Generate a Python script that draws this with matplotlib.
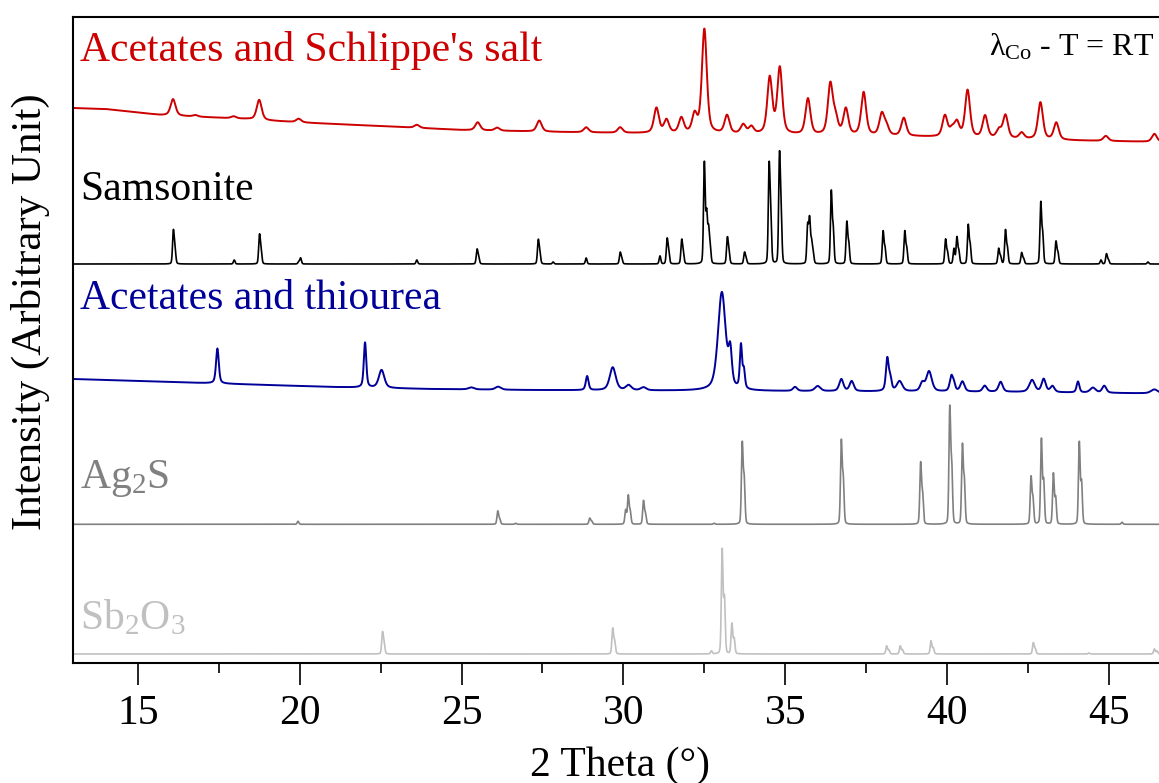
import numpy as np
import matplotlib
matplotlib.use("Agg")
import matplotlib.pyplot as plt
from matplotlib.ticker import MultipleLocator

plt.rcParams['font.family'] = ['Liberation Serif', 'DejaVu Serif']
plt.rcParams['mathtext.fontset'] = 'custom'
plt.rcParams['mathtext.rm'] = 'Liberation Serif'
plt.rcParams['mathtext.it'] = 'Liberation Serif:italic'

# ---------------- data ----------------
x_range = [13.0, 46.6]
x_ticks = [15, 20, 25, 30, 35, 40, 45]

# Acetates and Schlippe's salt (measured, red)
red_bg_x = [13, 14, 15.7, 17, 18.4, 19.1, 20.4, 22.9, 25, 28, 30, 33, 36, 39, 42, 44, 46.6]
red_bg_y = [555, 554, 548, 546, 544, 542.3, 540, 536.3, 533, 531, 530, 529, 527.5, 526.5, 524, 522.5, 521]
red_pos = [16.09, 16.78, 17.96, 18.75, 19.97, 23.62, 25.50, 26.10, 27.40, 28.85, 29.90, 31.02, 31.33,
           31.79, 32.20, 32.50, 33.20, 33.70, 33.95, 34.52, 34.83, 35.70, 36.39, 36.55, 36.87, 37.42,
           37.98, 38.12, 38.66, 39.93, 40.15, 40.30, 40.63, 41.17, 41.60, 41.80, 42.30, 42.88, 43.37,
           44.90, 46.40]
red_h = [16.5, 1.5, 2, 20, 3.5, 3, 8, 3, 11, 5, 5.5, 25, 13, 15, 18, 104, 18, 9, 7, 56, 66, 36, 50, 16,
         26, 43, 21, 9, 18, 21, 7, 14, 47, 22, 8, 23, 6, 37, 17, 5, 8]
red_fwhm = 0.18

# Samsonite (reference pattern, black)
sam_base = 399
sam_pos = [16.10, 16.15, 17.98, 18.76, 18.81, 19.97, 20.03, 23.62, 25.48, 25.53, 27.37, 27.42, 27.83,
           28.85, 29.90, 29.95, 31.13, 31.35, 31.40, 31.80, 31.85, 32.50, 32.57, 32.63, 32.68, 33.21,
           33.26, 33.74, 33.79, 34.50, 34.55, 34.82, 34.87, 35.69, 35.75, 35.81, 35.86, 36.42, 36.48,
           36.90, 36.96, 38.02, 38.08, 38.69, 38.75, 39.95, 40.01, 40.21, 40.30, 40.36, 40.65, 40.71,
           41.59, 41.65, 41.80, 41.86, 42.30, 42.36, 42.89, 42.95, 43.36, 43.42, 44.75, 44.92, 44.98,
           46.20]
sam_h = [32, 14, 4, 28, 12, 2, 6, 4, 14, 6, 23, 10, 2, 6, 11, 5, 8, 24, 11, 23, 10, 100, 48, 32, 15,
         25, 12, 11, 5, 94, 45, 104, 48, 37, 43, 20, 10, 71, 33, 41, 20, 32, 15, 32, 15, 24, 11, 15,
         26, 12, 38, 18, 15, 7, 33, 15, 11, 5, 60, 28, 22, 11, 4, 10, 4, 2]
sam_fwhm = 0.06

# Acetates and thiourea (measured, blue)
thio_bg_x = [13, 15, 17, 19, 21, 24, 27, 30, 34, 38, 42, 46.6]
thio_bg_y = [284, 282, 280, 278, 276, 274, 273, 272.5, 272, 271.5, 271, 269.5]
thio_pos = [17.46, 22.02, 22.53, 25.30, 26.13, 28.88, 29.67, 30.16, 30.62, 33.04, 33.30, 33.63, 33.72,
            35.30, 36.00, 36.73, 37.05, 38.15, 38.24, 38.53, 39.23, 39.44, 40.13, 40.21, 40.47, 41.16,
            41.65, 42.62, 42.98, 43.25, 44.04, 44.50, 44.85, 46.40]
thio_h = [35, 45, 18, 2, 3, 14, 23, 5, 3, 98, 33, 43, 18, 4, 5, 12, 10, 32, 12, 10, 8, 20, 15, 6, 10,
          6, 10, 12, 13, 6, 11, 5, 7, 4]
thio_w = [0.10, 0.09, 0.20, 0.2, 0.2, 0.10, 0.22, 0.2, 0.2, 0.28, 0.12, 0.08, 0.08, 0.15, 0.2, 0.15,
          0.15, 0.10, 0.10, 0.2, 0.15, 0.2, 0.12, 0.1, 0.15, 0.15, 0.15, 0.2, 0.15, 0.15, 0.10, 0.2,
          0.15, 0.25]

# Ag2S (reference pattern, grey)
ag_base = 138.7
ag_pos = [19.95, 26.12, 26.18, 26.67, 28.96, 29.02, 30.07, 30.15, 30.21, 30.62, 30.68, 32.80, 33.67,
          33.73, 36.73, 36.79, 39.18, 39.24, 40.08, 40.14, 40.47, 40.53, 42.59, 42.65, 42.91, 42.98,
          43.28, 43.35, 44.08, 44.15, 45.40]
ag_h = [3, 13, 5, 1, 6, 3, 14, 28, 12, 23, 10, 1, 79, 43, 81, 43, 60, 29, 114, 56, 77, 41, 46, 24, 84,
        42, 50, 26, 81, 41, 2]
ag_fwhm = 0.06

# Sb2O3 (reference pattern, light grey)
sb_base = 9
sb_pos = [22.56, 22.61, 29.67, 29.73, 32.72, 33.05, 33.12, 33.35, 33.42, 38.13, 38.20, 38.55, 38.62,
          39.50, 39.57, 42.66, 42.72, 44.38, 46.40, 46.48]
sb_h = [21, 9, 25, 12, 3, 103, 54, 30, 15, 8, 4, 8, 4, 13, 6, 11, 5, 1, 5, 3]
sb_fwhm = 0.06

labels = ["Acetates and Schlippe's salt", "Samsonite", "Acetates and thiourea",
          r"Ag$_\mathregular{2}$S", r"Sb$_\mathregular{2}$O$_\mathregular{3}$"]
colors = ['#cc0000', '#000000', '#000099', '#808080', '#c0c0c0']


# ---------------- drawing ----------------
def pattern(x, pos, h, w, eta):
    w = np.broadcast_to(np.asarray(w, float), np.shape(pos))
    y = np.zeros_like(x)
    for p, hh, ww in zip(pos, h, w):
        d = (x - p) / (ww / 2.0)
        y += hh * (eta / (1 + d * d) + (1 - eta) * np.exp(-np.log(2) * d * d))
    return y


x = np.arange(x_range[0], x_range[1] + 0.002, 0.004)

traces = [
    np.interp(x, red_bg_x, red_bg_y) + pattern(x, red_pos, red_h, red_fwhm, 0.5),
    sam_base + pattern(x, sam_pos, sam_h, sam_fwhm, 0.2),
    np.interp(x, thio_bg_x, thio_bg_y) + pattern(x, thio_pos, thio_h, thio_w, 0.5),
    ag_base + pattern(x, ag_pos, ag_h, ag_fwhm, 0.2),
    sb_base + pattern(x, sb_pos, sb_h, sb_fwhm, 0.2),
]

W, H = 1159, 783
fig = plt.figure(figsize=(W / 100, H / 100), dpi=100)
ax = fig.add_axes([73 / W, (H - 663) / H, 1 - 73 / W + 0.01, (663 - 17) / H])

lws = [1.4, 1.2, 1.4, 1.2, 1.2]
for tr, c, lw in zip(traces, colors, lws):
    ax.plot(x, tr, color=c, lw=lw)

ax.set_xlim(x_range[0], x_range[1] + 0.3)
ax.set_ylim(0, 646)
ax.set_yticks([])
ax.xaxis.set_minor_locator(MultipleLocator(2.5))
ax.set_xticks(x_ticks)
ax.tick_params(axis='x', which='major', direction='out', length=16, width=1.2, labelsize=30, pad=7)
ax.tick_params(axis='x', which='minor', direction='out', length=7, width=1.2)
for s in ['left', 'top', 'bottom']:
    ax.spines[s].set_linewidth(1.5)
ax.spines['right'].set_visible(False)

fig.text(620 / W, 1 - 776 / H, "2 Theta (°)", fontsize=30, ha='center', va='baseline')
fig.text(30 / W, 1 - 312 / H, "Intensity (Arbitrary Unit)", fontsize=31, rotation=90,
         ha='center', va='center')

label_baselines = [61, 200, 309, 488, 629]
for lab, c, yb in zip(labels, colors, label_baselines):
    fig.text(80 / W, 1 - yb / H, lab, fontsize=30, color=c, ha='left', va='baseline')

fig.text(1154 / W, 1 - 55 / H, r"λ$_\mathregular{Co}$ - T = RT", fontsize=23, color='black',
         ha='right', va='baseline')

fig.savefig("out.png", dpi=100)
